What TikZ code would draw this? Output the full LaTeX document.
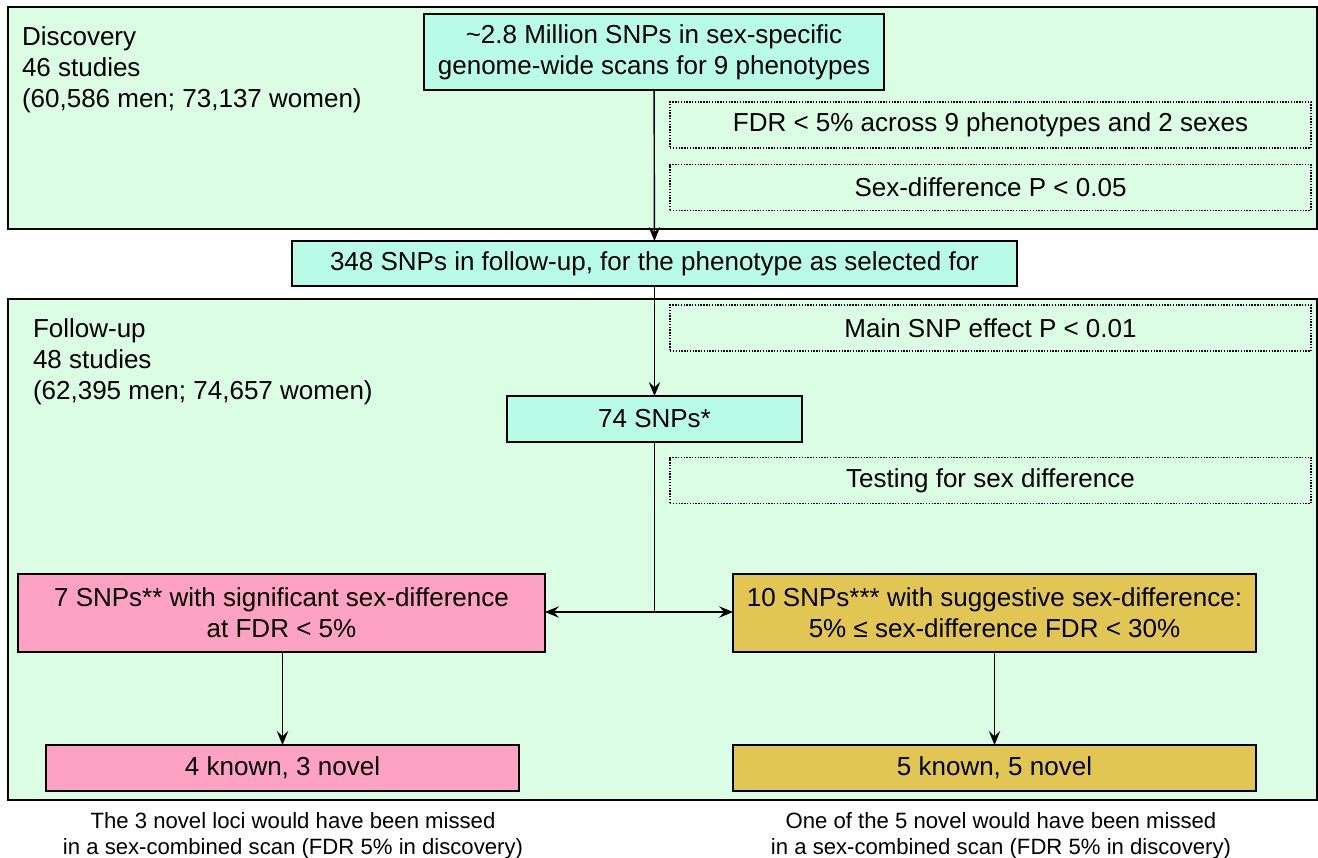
\documentclass[tikz,border=0pt]{standalone}
\usepackage{fontspec}
\setmainfont{Liberation Sans}
\usetikzlibrary{arrows.meta}
\definecolor{panelgreen}{RGB}{219,253,227}
\definecolor{snpcyan}{RGB}{184,252,232}
\definecolor{sigpink}{RGB}{253,162,194}
\definecolor{suggold}{RGB}{226,198,84}
\begin{document}
\begin{tikzpicture}[x=0.02cm, y=-0.02cm,
    every node/.style={font=\fontsize{14.8}{17.6}\selectfont, inner sep=0pt, outer sep=0pt},
    panel/.style={draw, line width=0.8pt, fill=panelgreen},
    snpbox/.style={draw, line width=0.8pt, fill=snpcyan, align=center},
    filterbox/.style={draw, line width=0.7pt, dash pattern=on 0.8pt off 0.8pt, minimum width=12.82cm, minimum height=0.92cm},
    note/.style={align=center, font=\fontsize{12.6}{14.7}\selectfont},
    flow/.style={line width=0.8pt, -{Stealth[length=8pt, width=6.5pt, inset=3pt]}}]
    \useasboundingbox (0,0) rectangle (1318,858);
    % the two panels
    \draw[panel] (8,7) rectangle (1317,229);
    \draw[panel] (8,299) rectangle (1317,800);
    \node[anchor=north west, align=left] (disc) at (22,27) {Discovery\\46 studies\\(60,586 men; 73,137 women)};
    \node[anchor=north west, align=left] (foll) at (33,319) {Follow-up\\48 studies\\(62,395 men; 74,657 women)};
    % boxes
    \node[snpbox, minimum width=9.2cm, minimum height=1.52cm] (scan) at (654,52) {\textasciitilde2.8 Million SNPs in sex-specific\\genome-wide scans for 9 phenotypes};
    \node[filterbox] (fdr) at (990.5,125) {FDR < 5\% across 9 phenotypes and 2 sexes};
    \node[filterbox] (sexp) at (990.5,187.5) {Sex-difference P < 0.05};
    \node[snpbox, minimum width=14.5cm, minimum height=0.9cm] (fup) at (654.5,263.5) {348 SNPs in follow-up, for the phenotype as selected for};
    \node[filterbox] (main) at (990.5,328) {Main SNP effect P < 0.01};
    \node[snpbox, minimum width=5.9cm, minimum height=0.92cm] (snps) at (654.5,419) {74 SNPs*};
    \node[filterbox] (test) at (990.5,480.5) {Testing for sex difference};
    \node[snpbox, fill=sigpink, minimum width=10.54cm, minimum height=1.56cm] (sig) at (281.5,613) {7 SNPs** with significant sex-difference\\at FDR < 5\%};
    \node[snpbox, fill=suggold, minimum width=10.46cm, minimum height=1.56cm] (sug) at (994.5,613) {10 SNPs*** with suggestive sex-difference:\\5\% ≤ sex-difference FDR < 30\%};
    \node[snpbox, fill=sigpink, minimum width=9.46cm, minimum height=0.92cm] (sigres) at (282.5,768) {4 known, 3 novel};
    \node[snpbox, fill=suggold, minimum width=10.46cm, minimum height=0.92cm] (sugres) at (994.5,768) {5 known, 5 novel};
    % notes below
    \node[note] (signote) at (293,836) {The 3 novel loci would have been missed\\in a sex-combined scan (FDR 5\% in discovery)};
    \node[note] (sugnote) at (1001,836) {One of the 5 novel would have been missed\\in a sex-combined scan (FDR 5\% in discovery)};
    % connectors
    \draw[flow] (scan) -- (fup);
    \draw[flow] (fup) -- (snps);
    \coordinate (split) at (654.5,612);
    \draw[line width=0.8pt] (snps.south) -- (split);
    \draw[flow] (split) -- (sig.east |- split);
    \draw[flow] (split) -- (sug.west |- split);
    \draw[flow] (sig.south -| sigres.north) -- (sigres.north);
    \draw[flow] (sug) -- (sugres);
\end{tikzpicture}
\end{document}
